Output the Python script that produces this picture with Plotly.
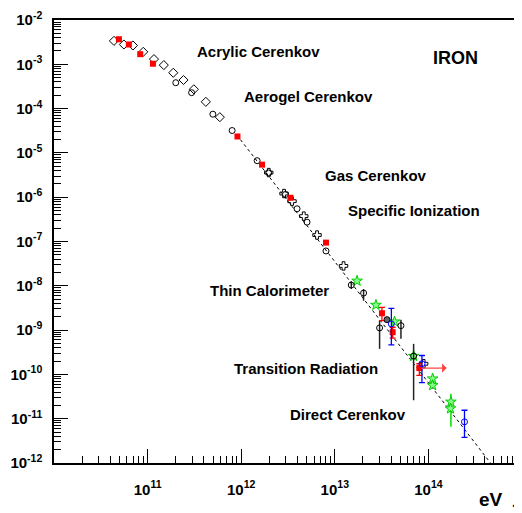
import numpy as np
import plotly.graph_objects as go

# ---- data (energy in eV, flux) ----
diamond_e = [4.37e10, 5.58e10, 6.97e10, 8.98e10, 1.17e11, 1.49e11, 1.88e11, 2.42e11, 3.12e11, 4.19e11, 5.91e11]
diamond_f = [3.38e-3, 2.80e-3, 2.66e-3, 1.91e-3, 1.31e-3, 9.6e-4, 6.44e-4, 4.42e-4, 2.73e-4, 1.42e-4, 6.41e-5]

circle_e = [2.00e11, 2.95e11, 4.98e11, 8.0e11, 1.48e12, 1.97e12, 2.97e12, 3.95e12, 5.05e12, 8.05e12]
circle_f = [3.84e-4, 2.29e-4, 7.48e-5, 3.2e-5, 6.68e-6, 3.53e-6, 1.15e-6, 5.48e-7, 2.74e-7, 6.12e-8]

circle_err_e = [1.50e13, 2.03e13, 3.01e13, 5.09e13, 6.95e13]
circle_err_f = [1.04e-8, 6.86e-9, 1.12e-9, 1.26e-9, 2.59e-10]
circle_err_hi = [1.27e-8, 8.43e-9, 1.61e-9, 1.72e-9, 4.89e-10]
circle_err_lo = [8.5e-9, 4.6e-9, 3.78e-10, 6.34e-10, 2.61e-11]

cross_e = [1.97e12, 2.87e12, 3.49e12, 4.66e12, 6.46e12, 1.24e13, 8.9e13]
cross_f = [3.6e-6, 1.21e-6, 8.13e-7, 3.74e-7, 1.40e-7, 2.81e-8, 1.74e-10]

red_e = [4.94e10, 6.31e10, 8.34e10, 1.14e11, 9.12e11, 1.67e12, 3.36e12, 8.05e12]
red_f = [3.68e-3, 2.80e-3, 1.69e-3, 1.03e-3, 2.35e-5, 5.43e-6, 9.7e-7, 9.44e-8]

red_err_e = [3.19e13, 4.15e13, 8.0e13]
red_err_f = [2.40e-9, 8.97e-10, 1.39e-10]
red_err_hi = [3.27e-9, 1.16e-9, 1.74e-10]
red_err_lo = [1.63e-9, 6.58e-10, 9.5e-11]
red_limit_e = 1.57e14

green_e = [1.73e13, 2.75e13, 4.35e13, 6.95e13, 1.11e14, 1.11e14, 1.74e14, 1.72e14]
green_f = [1.29e-8, 3.68e-9, 1.55e-9, 2.59e-10, 8.0e-11, 5.66e-11, 2.40e-11, 1.69e-11]
green_hi = [1.29e-8, 3.68e-9, 1.55e-9, 2.59e-10, 8.0e-11, 5.66e-11, 3.65e-11, 1.69e-11]
green_lo = [1.29e-8, 3.68e-9, 1.55e-9, 2.59e-10, 5.66e-11, 5.66e-11, 6.58e-12, 1.69e-11]

blue_e = [4.02e13, 8.53e13, 2.43e14]
blue_f = [1.38e-9, 1.74e-10, 8.5e-12]
blue_hi = [3.1e-9, 2.67e-10, 1.55e-11]
blue_lo = [4.65e-10, 6.5e-11, 3.78e-12]

grey_e = [3.61e13]
grey_f = [1.72e-9]

fit_e = [8.97e11, 4.61e14]
fit_f = [2.55e-5, 1.0e-12]

x_tickvals = [1e11, 1e12, 1e13, 1e14]
x_ticktext = ["10<sup>11</sup>", "10<sup>12</sup>", "10<sup>13</sup>", "10<sup>14</sup>"]
y_exps = list(range(-12, -1))
y_tickvals = [10.0 ** k for k in y_exps]
y_ticktext = ["10<sup>-%d</sup>" % (-k) for k in y_exps]

labels = ["Acrylic Cerenkov", "Aerogel Cerenkov", "Gas Cerenkov", "Specific Ionization",
          "Thin Calorimeter", "Transition Radiation", "Direct Cerenkov"]
label_pos = [(0.3013, 0.9285), (0.4011, 0.8284), (0.5741, 0.6501), (0.6239, 0.5695),
             (0.3297, 0.3889), (0.381, 0.2138), (0.5006, 0.1106)]

x_minor = [k * 10.0 ** n for n in range(10, 15) for k in range(2, 10)]
y_minor = [k * 10.0 ** n for n in range(-12, -2) for k in range(2, 10)]


def errs(f, hi, lo):
    f = np.array(f); hi = np.array(hi); lo = np.array(lo)
    return dict(type="data", symmetric=False, array=list(hi - f), arrayminus=list(f - lo))


fig = go.Figure()
fig.add_trace(go.Scatter(x=fit_e, y=fit_f, mode="lines",
                         line=dict(color="black", width=1, dash="dot")))
fig.add_trace(go.Scatter(x=diamond_e, y=diamond_f, mode="markers",
                         marker=dict(symbol="diamond-open", size=7, color="black", line=dict(width=1))))
fig.add_trace(go.Scatter(x=circle_e, y=circle_f, mode="markers",
                         marker=dict(symbol="circle-open", size=6, color="black", line=dict(width=1))))
fig.add_trace(go.Scatter(x=cross_e, y=cross_f, mode="markers",
                         marker=dict(symbol="cross-open", size=7, color="black", line=dict(width=1))))
fig.add_trace(go.Scatter(x=red_e, y=red_f, mode="markers",
                         marker=dict(symbol="square", size=6, color="red")))
fig.add_trace(go.Scatter(x=green_e, y=green_f, mode="markers",
                         error_y=dict(errs(green_f, green_hi, green_lo), color="#00dd00", thickness=1.5, width=0),
                         marker=dict(symbol="star", size=8, color="#88ff88", line=dict(color="#00cc00", width=1))))
fig.add_trace(go.Scatter(x=red_err_e, y=red_err_f, mode="markers",
                         error_y=dict(errs(red_err_f, red_err_hi, red_err_lo), color="red", thickness=1.3, width=3),
                         marker=dict(symbol="square", size=6, color="red")))
fig.add_trace(go.Scatter(x=circle_err_e, y=circle_err_f, mode="markers",
                         error_y=dict(errs(circle_err_f, circle_err_hi, circle_err_lo), color="#222222", thickness=1.5, width=0),
                         marker=dict(symbol="circle-open", size=6, color="black", line=dict(width=1))))
fig.add_trace(go.Scatter(x=grey_e, y=grey_f, mode="markers",
                         marker=dict(symbol="circle", size=6, color="#666666", line=dict(color="black", width=1))))
fig.add_trace(go.Scatter(x=blue_e, y=blue_f, mode="markers",
                         error_y=dict(errs(blue_f, blue_hi, blue_lo), color="blue", thickness=1.3, width=3),
                         marker=dict(symbol="circle-open", size=6, color="blue", line=dict(width=1))))

annotations = []
for txt, (px, py) in zip(labels, label_pos):
    annotations.append(dict(text=txt, x=px, y=py, xref="paper", yref="paper", xanchor="left",
                            yanchor="middle", showarrow=False,
                            font=dict(family="Liberation Sans", size=15, color="black", weight="bold")))
annotations.append(dict(text="IRON", x=0.8049, y=0.9135, xref="paper", yref="paper", xanchor="left",
                        yanchor="middle", showarrow=False,
                        font=dict(family="Liberation Sans", size=18, color="black", weight="bold")))
annotations.append(dict(text="eV", x=0.903, y=-0.0835, xref="paper", yref="paper", xanchor="left",
                        yanchor="middle", showarrow=False,
                        font=dict(family="Liberation Sans", size=19, color="black", weight="bold")))
annotations.append(dict(text=".", x=0.982, y=-0.088, xref="paper", yref="paper", xanchor="center",
                        yanchor="middle", showarrow=False,
                        font=dict(family="Liberation Sans", size=14, color="black", weight="bold")))
annotations.append(dict(text="", x=np.log10(red_limit_e), y=np.log10(red_err_f[2]),
                        ax=np.log10(red_err_e[2]), ay=np.log10(red_err_f[2]),
                        xref="x", yref="y", axref="x", ayref="y", showarrow=True,
                        arrowhead=1, arrowsize=1.3, arrowwidth=1.2, arrowcolor="#ff4444", standoff=0))

tickfont = dict(family="Liberation Sans", size=15, color="black", weight="bold")
# the page body has an 8px default margin, so the figure is sized/offset to compensate
fig.update_layout(
    width=514, height=505, margin=dict(l=46, r=0, t=12, b=50, autoexpand=False),
    paper_bgcolor="white", plot_bgcolor="white", showlegend=False,
    annotations=annotations,
    xaxis=dict(type="log", range=[10, 15], showgrid=False, zeroline=False, automargin=False,
               showline=True, linecolor="black", linewidth=1.5, mirror=True,
               ticks="inside", ticklen=14, tickwidth=1, tickcolor="black",
               tickmode="array", tickvals=x_tickvals, ticktext=x_ticktext,
               tickfont=tickfont, ticklabelstandoff=12,
               minor=dict(tickmode="array", tickvals=x_minor, ticks="inside", ticklen=7,
                          tickwidth=1, tickcolor="black", showgrid=False)),
    yaxis=dict(type="log", range=[-12, -2], showgrid=False, zeroline=False, automargin=False,
               showline=True, linecolor="black", linewidth=1.5, mirror=False,
               ticks="inside", ticklen=14, tickwidth=1, tickcolor="black",
               tickmode="array", tickvals=y_tickvals, ticktext=y_ticktext,
               tickfont=tickfont, ticklabelstandoff=7,
               minor=dict(tickmode="array", tickvals=y_minor, ticks="inside", ticklen=7,
                          tickwidth=1, tickcolor="black", showgrid=False)),
)

fig.write_html("out.html")
